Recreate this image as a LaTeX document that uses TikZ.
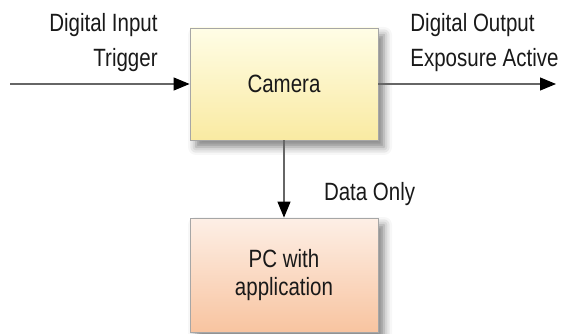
\documentclass[tikz,border=0pt]{standalone}
\usepackage{fontspec}
\setmainfont{Liberation Sans}[FakeStretch=0.82]
\usetikzlibrary{arrows.meta,positioning,shadows.blur}

\definecolor{camtop}{HTML}{FFFDE6}
\definecolor{cambot}{HTML}{F9EAA2}
\definecolor{pctop}{HTML}{FDEFE6}
\definecolor{pcbot}{HTML}{F8C4A0}

\begin{document}
\begin{tikzpicture}[
    x=1pt, y=1pt,
    every node/.style={font=\fontsize{25}{35}\selectfont, text=black!90},
    block/.style={draw=black!35, line width=0.8pt, minimum width=188pt,
        blur shadow={shadow xshift=6pt, shadow yshift=-7pt, shadow blur radius=8pt, shadow opacity=50}},
    link/.style={draw=black!60, line width=1.2pt, -{Triangle[length=16pt,width=13pt,black]}},
    lbl/.style={inner sep=0pt, outer sep=0pt}
]
\useasboundingbox (0,0) rectangle (566,333);

% the two boxes
\node[block, minimum height=112pt, top color=camtop, bottom color=cambot] (camera) at (284,249) {Camera};
\node[block, minimum height=114pt, top color=pctop, bottom color=pcbot, align=center,
    font=\fontsize{25}{28}\selectfont] (pc) at (284,58) {PC with\\application};

% signals in and out
\coordinate (in) at (10,249);
\coordinate (out) at (556,249);
\draw[link] (in) -- (camera);
\draw[link] (camera) -- (out);
\draw[link] (camera) -- (pc);

% labels
\node[lbl, align=right, above left=12pt and 32pt of camera.west] (inlabel) {Digital Input\\Trigger};
\node[lbl, align=left, above right=12pt and 32pt of camera.east] (outlabel) {Digital Output\\Exposure Active};
\node[lbl, below right=42pt and 40pt of camera.south] (datalabel) {Data Only};
\end{tikzpicture}
\end{document}
